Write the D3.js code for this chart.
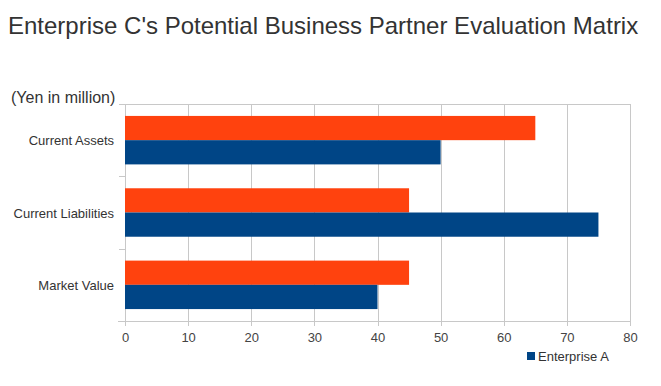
<!DOCTYPE html>
<html lang="en">
<head>
<meta charset="UTF-8">
<title>Enterprise C's Potential Business Partner Evaluation Matrix</title>
<style>
  * {padding:0; margin:0;}
  body {background:#fff; font-family:"Liberation Sans", Arial, sans-serif;}
  #chart {display:block;}
  .title {font-size:24px; fill:#333;}
  .unit {font-size:16px; fill:#333;}
  .cat {font-size:13px; fill:#333; text-anchor:end;}
  .tick text {font-size:13px; fill:#444;}
  .grid line {stroke:#c8c8c8; stroke-width:1px;}
</style>
</head>
<body>
<script src="https://cdn.jsdelivr.net/npm/d3@7"></script>
<svg id="chart"></svg>
<script>
// data
var categories = ["Current Assets", "Current Liabilities", "Market Value"];
var seriesNames = ["Enterprise B", "Enterprise A"];
var enterpriseB = [65, 45, 45];   // orange bars (top of each pair)
var enterpriseA = [50, 75, 40];   // blue bars
var xTicks = [0, 10, 20, 30, 40, 50, 60, 70, 80];
var colors = ["#ff420e", "#004586"];

var svgWidth = 661, svgHeight = 386;
var plotLeft = 125, plotRight = 630, plotTop = 104, plotBottom = 321;

var svg = d3.select("#chart")
  .attr("width", svgWidth)
  .attr("height", svgHeight);

// title
svg.append("text")
  .attr("class", "title")
  .attr("x", 8)
  .attr("y", 34)
  .text("Enterprise C's Potential Business Partner Evaluation Matrix");

svg.append("text")
  .attr("class", "unit")
  .attr("x", 11)
  .attr("y", 103)
  .text("(Yen in million)");

var x = d3.scaleLinear().domain([0, 80]).range([plotLeft, plotRight]);
var y = d3.scaleBand().domain(categories).range([plotTop, plotBottom])
  .paddingInner(0.33).paddingOuter(0.165);
var ySub = d3.scaleBand().domain(seriesNames).range([0, y.bandwidth()]);

// vertical grid lines (extend slightly below the axis like tick marks)
svg.append("g").attr("class", "grid")
  .selectAll("line")
  .data(xTicks)
  .enter()
  .append("line")
  .attr("x1", function(d){ return Math.round(x(d)) + 0.5; })
  .attr("x2", function(d){ return Math.round(x(d)) + 0.5; })
  .attr("y1", plotTop)
  .attr("y2", plotBottom + 5);

// top border
svg.append("line")
  .attr("x1", plotLeft).attr("x2", plotRight + 1)
  .attr("y1", plotTop + 0.5).attr("y2", plotTop + 0.5)
  .attr("stroke", "#c8c8c8");

// category separators on the left
var sepData = [0, 1, 2, 3];
var step = (plotBottom - plotTop) / categories.length;
svg.append("g").attr("class", "grid")
  .selectAll("line")
  .data(sepData)
  .enter()
  .append("line")
  .attr("x1", plotLeft - 6)
  .attr("x2", plotLeft)
  .attr("y1", function(d){ return Math.round(plotTop + d * step) + 0.5; })
  .attr("y2", function(d){ return Math.round(plotTop + d * step) + 0.5; });

// bottom axis line
svg.append("line")
  .attr("x1", plotLeft - 7).attr("x2", plotRight + 1)
  .attr("y1", plotBottom + 0.5).attr("y2", plotBottom + 0.5)
  .attr("stroke", "#c8c8c8");

// bars
var rows = categories.map(function(c, i){
  return [
    {cat: c, name: seriesNames[0], value: enterpriseB[i]},
    {cat: c, name: seriesNames[1], value: enterpriseA[i]}
  ];
});

var groups = svg.append("g")
  .selectAll("g")
  .data(rows)
  .enter()
  .append("g")
  .attr("transform", function(d){ return "translate(0," + y(d[0].cat) + ")"; });

groups.selectAll("rect")
  .data(function(d){ return d; })
  .enter()
  .append("rect")
  .attr("x", x(0))
  .attr("y", function(d){ return ySub(d.name); })
  .attr("width", function(d){ return x(d.value) - x(0); })
  .attr("height", ySub.bandwidth())
  .attr("fill", function(d, i){ return colors[i]; });

// category labels
svg.append("g")
  .selectAll("text")
  .data(categories)
  .enter()
  .append("text")
  .attr("class", "cat")
  .attr("x", 114)
  .attr("y", function(d){ return y(d) + y.bandwidth() / 2 + 5; })
  .text(function(d){ return d; });

// x axis labels
var xAxis = d3.axisBottom(x).tickValues(xTicks).tickSize(0).tickPadding(12);
var ax = svg.append("g")
  .attr("transform", "translate(0," + plotBottom + ")")
  .call(xAxis);
ax.select(".domain").remove();
ax.selectAll("text").attr("font-family", "Liberation Sans, Arial, sans-serif");

// legend (only Enterprise A shown)
var legend = svg.append("g").attr("transform", "translate(527,352)");
legend.append("rect")
  .attr("width", 8).attr("height", 8)
  .attr("fill", colors[1]);
legend.append("text")
  .attr("x", 11).attr("y", 9)
  .attr("font-size", "13px")
  .attr("fill", "#333")
  .text(seriesNames[1]);
</script>
</body>
</html>
